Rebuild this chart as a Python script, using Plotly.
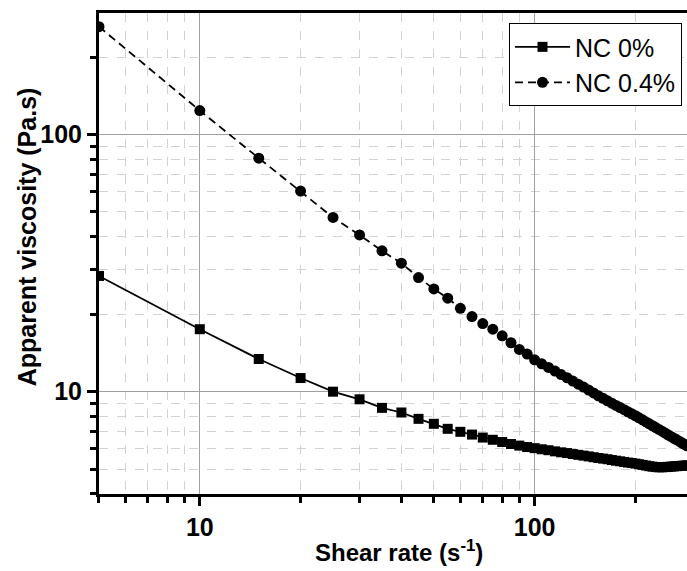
import plotly.graph_objects as go

# Shear rate (1/s)
shear_rate = [5, 10, 15, 20, 25, 30, 35, 40, 45, 50, 55, 60, 65, 70, 75, 80, 85, 90, 95, 100,
              105, 110, 115, 120, 125, 130, 135, 140, 145, 150, 155, 160, 165, 170, 175, 180,
              185, 190, 195, 200, 205, 210, 215, 220, 225, 230, 235, 240, 245, 250, 255, 260,
              265, 270, 275, 280, 285]

# Apparent viscosity (Pa.s), NC 0%
visc_nc0 = [28.2, 17.5, 13.4, 11.3, 10.0, 9.34, 8.65, 8.30, 7.84, 7.50, 7.17, 6.98, 6.81, 6.63,
            6.50, 6.37, 6.26, 6.17, 6.09, 6.03, 5.97, 5.92, 5.86, 5.81, 5.77, 5.72, 5.68, 5.64,
            5.60, 5.56, 5.52, 5.49, 5.46, 5.42, 5.39, 5.36, 5.33, 5.30, 5.28, 5.25, 5.22, 5.19,
            5.16, 5.13, 5.11, 5.09, 5.08, 5.08, 5.09, 5.10, 5.11, 5.12, 5.13, 5.14, 5.15, 5.16,
            5.17]

# Apparent viscosity (Pa.s), NC 0.4%
visc_nc04 = [263, 124, 81, 60.3, 47.6, 40.7, 35.3, 31.6, 27.8, 25.1, 23.1, 21.1, 19.6, 18.4,
             17.5, 16.5, 15.5, 14.6, 14.0, 13.3, 12.84, 12.42, 12.03, 11.66, 11.33, 11.0, 10.7,
             10.42, 10.15, 9.89, 9.64, 9.42, 9.21, 9.02, 8.84, 8.67, 8.51, 8.35, 8.20, 8.06,
             7.91, 7.77, 7.63, 7.50, 7.37, 7.25, 7.13, 7.02, 6.91, 6.80, 6.70, 6.60, 6.51,
             6.42, 6.33, 6.24, 6.16]

x_major = [10, 100]
x_minor = [5, 6, 7, 8, 9, 20, 30, 40, 50, 60, 70, 80, 90, 200, 300]
y_major = [10, 100]
y_minor = [4, 5, 6, 7, 8, 9, 20, 30, 40, 50, 60, 70, 80, 90, 200, 300]

FONT = "Liberation Sans"

fig = go.Figure()
fig.add_trace(go.Scatter(
    x=shear_rate, y=visc_nc0, name="NC 0%", mode="lines+markers",
    line=dict(color="black", width=1.8),
    marker=dict(symbol="square", size=10, color="black"),
))
fig.add_trace(go.Scatter(
    x=shear_rate, y=visc_nc04, name="NC 0.4%", mode="lines+markers",
    line=dict(color="black", width=1.8, dash="8px,5px"),
    marker=dict(symbol="circle", size=11, color="black"),
))

axis_common = dict(
    type="log",
    showline=True, linewidth=3, linecolor="black",
    ticks="outside", ticklen=9, tickwidth=2.5, tickcolor="black",
    showgrid=True, gridcolor="#a0a0a0", gridwidth=1,
    tickfont=dict(family=FONT, size=25, color="black", weight="bold"),
    zeroline=False,
)

fig.update_xaxes(
    **axis_common,
    range=[0.699, 2.455],
    tickmode="array", tickvals=x_major, ticktext=[str(v) for v in x_major],
    mirror=True,
    minor=dict(tickmode="array", tickvals=x_minor, ticks="outside", ticklen=6,
               tickwidth=2.5, tickcolor="black", showgrid=True, gridcolor="#d2d2d2",
               griddash="dash", gridwidth=1),
)
fig.update_yaxes(
    **axis_common,
    range=[0.602, 2.473],
    tickmode="array", tickvals=y_major, ticktext=[str(v) for v in y_major],
    minor=dict(tickmode="array", tickvals=y_minor, ticks="outside", ticklen=6,
               tickwidth=2.5, tickcolor="black", showgrid=True, gridcolor="#d2d2d2",
               griddash="dash", gridwidth=1),
)

fig.add_annotation(
    text="Shear rate (s<sup>-1</sup>)", xref="paper", yref="paper",
    x=0.51, y=-0.083, xanchor="center", yanchor="top", showarrow=False,
    font=dict(family=FONT, size=24, color="black", weight="bold"),
)
fig.add_annotation(
    text="Apparent viscosity (Pa.s)", xref="paper", yref="paper",
    x=-0.123, y=0.535, xanchor="center", yanchor="middle", showarrow=False,
    textangle=-90,
    font=dict(family=FONT, size=25, color="black", weight="bold"),
)

fig.update_layout(
    width=687, height=571,
    margin=dict(l=99, r=0, t=13, b=77),
    plot_bgcolor="white", paper_bgcolor="white",
    showlegend=True,
    legend=dict(
        x=0.9915, y=0.979, xanchor="right", yanchor="top",
        bgcolor="white", bordercolor="black", borderwidth=1,
        font=dict(family=FONT, size=25, color="black"),
        itemwidth=55, tracegroupgap=0,
    ),
)

fig.write_html("out.html")
